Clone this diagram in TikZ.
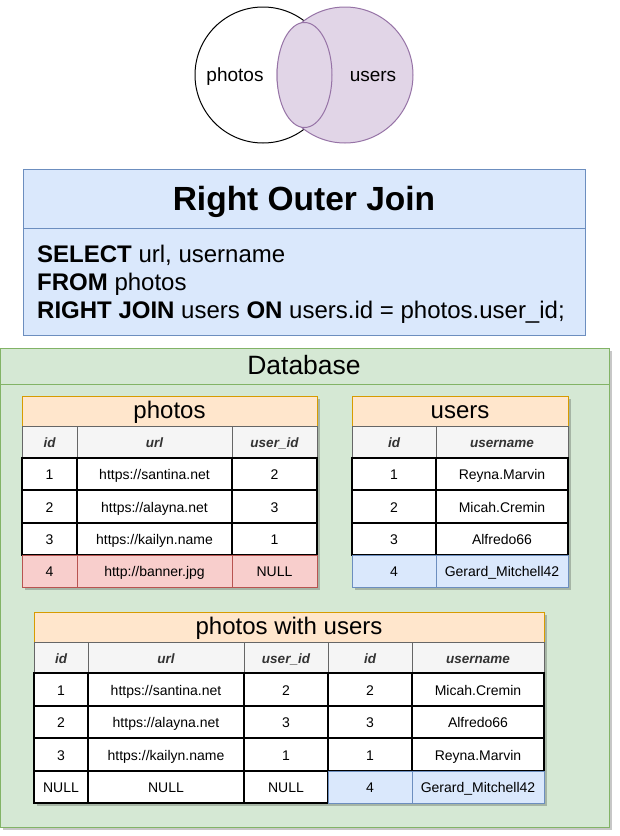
\documentclass[tikz,border=0pt]{standalone}
\usepackage{fontspec}
\usetikzlibrary{shapes.geometric}
\setmainfont{Liberation Sans}
\definecolor{bfill}{HTML}{DAE8FC}\definecolor{bstroke}{HTML}{6C8EBF}
\definecolor{gfill}{HTML}{D5E8D4}\definecolor{gstroke}{HTML}{82B366}
\definecolor{ofill}{HTML}{FFE6CC}\definecolor{ostroke}{HTML}{D79B00}
\definecolor{pfill}{HTML}{E1D5E7}\definecolor{pstroke}{HTML}{9673A6}
\definecolor{rfill}{HTML}{F8CECC}\definecolor{rstroke}{HTML}{B85450}
\definecolor{hfill}{HTML}{F5F5F5}\definecolor{hstroke}{HTML}{666666}\definecolor{htext}{HTML}{333333}
\newcommand\cellbox[7]{\node[#6, minimum width={(#4-#2)*1pt}, minimum height={(#5-#3)*1pt}] (#1) at ({(#2+#4)/2},{(#3+#5)/2}) {#7};}
\newcommand\shadowbox[4]{\fill[black, opacity=0.22] ({#1+3},{#2+3}) rectangle ({#3+3},{#4+3});}
\begin{document}
\begin{tikzpicture}[x=1pt,y=-1pt,
  base/.style={rectangle, inner sep=0pt, outer sep=0pt, line width=1pt},
  hdr/.style={base, draw=ostroke, fill=ofill, text height=17pt, text depth=3pt, font=\fontsize{24}{28}\selectfont},
  colh/.style={base, draw=hstroke, fill=hfill, text=htext, text height=11pt, text depth=0pt, font=\fontsize{13.5}{15}\selectfont\bfseries\itshape},
  txt/.style={text height=11pt, text depth=0pt, font=\fontsize{14}{16}\selectfont},
  dat/.style={base, txt, draw=black, fill=white, line width=1.3pt},
  datr/.style={base, txt, draw=rstroke, fill=rfill},
  datb/.style={base, txt, draw=bstroke, fill=bfill},
  sql/.style={anchor=base west, inner sep=0pt, font=\fontsize{24}{28}\selectfont},
  venn/.style={text height=14pt, text depth=0pt, font=\fontsize{19}{22}\selectfont}
]
\useasboundingbox (0,0) rectangle (619,836);
% Venn
\node[circle, draw=black, fill=white, line width=1pt, minimum size=136pt, inner sep=0pt] (pc) at (263,75) {};
\node[circle, draw=pstroke, fill=pfill, line width=1pt, minimum size=136pt, inner sep=0pt] (uc) at (345,75) {};
\node[ellipse, draw=pstroke, fill=pfill, line width=1pt, minimum width=55pt, minimum height=105pt, inner sep=0pt] (lens) at (304.5,75) {};
\node[venn] (pt) at (235,74) {photos};
\node[venn] (ut) at (373,74) {users};
% Title box
\cellbox{tbox}{23}{169}{585}{335}{base, draw=bstroke, fill=bfill}{}
\draw[bstroke, line width=1pt] (23,228) -- (585,228);
\node[anchor=base, inner sep=0pt, font=\fontsize{33.5}{38}\selectfont\bfseries] (title) at (304,210) {Right Outer Join};
\node[sql] (s1) at (37,262) {\textbf{SELECT} url, username};
\node[sql] (s2) at (37,290) {\textbf{FROM} photos};
\node[sql] (s3) at (37,318) {\textbf{RIGHT JOIN} users \textbf{ON} users.id = photos.user\_id;};
% Database container
\shadowbox{0}{348}{609}{827}
\cellbox{db}{0}{348}{609}{827}{base, draw=gstroke, fill=gfill}{}
\draw[gstroke, line width=1pt] (0,384) -- (609,384);
\node[anchor=base, inner sep=0pt, font=\fontsize{26.5}{30}\selectfont] (dbt) at (304,374) {Database};
% photos table
\shadowbox{22}{396}{317}{587}
\cellbox{ph}{22}{396}{317}{426}{hdr}{photos}
\cellbox{ph0a}{22}{426}{77}{458}{colh}{id}
\cellbox{ph0b}{77}{426}{232}{458}{colh}{url}
\cellbox{ph0c}{232}{426}{317}{458}{colh}{user\_id}
\cellbox{ph1a}{22}{458}{77}{490}{dat}{1}
\cellbox{ph1b}{77}{458}{232}{490}{dat}{https://santina.net}
\cellbox{ph1c}{232}{458}{317}{490}{dat}{2}
\cellbox{ph2a}{22}{490}{77}{523}{dat}{2}
\cellbox{ph2b}{77}{490}{232}{523}{dat}{https://alayna.net}
\cellbox{ph2c}{232}{490}{317}{523}{dat}{3}
\cellbox{ph3a}{22}{523}{77}{555}{dat}{3}
\cellbox{ph3b}{77}{523}{232}{555}{dat}{https://kailyn.name}
\cellbox{ph3c}{232}{523}{317}{555}{dat}{1}
\cellbox{ph4a}{22}{555}{77}{587}{datr}{4}
\cellbox{ph4b}{77}{555}{232}{587}{datr}{http://banner.jpg}
\cellbox{ph4c}{232}{555}{317}{587}{datr}{NULL}
% users table
\shadowbox{352}{396}{568}{587}
\cellbox{us}{352}{396}{568}{426}{hdr}{users}
\cellbox{us0a}{352}{426}{436}{458}{colh}{id}
\cellbox{us0b}{436}{426}{568}{458}{colh}{username}
\cellbox{us1a}{352}{458}{436}{490}{dat}{1}
\cellbox{us1b}{436}{458}{568}{490}{dat}{Reyna.Marvin}
\cellbox{us2a}{352}{490}{436}{523}{dat}{2}
\cellbox{us2b}{436}{490}{568}{523}{dat}{Micah.Cremin}
\cellbox{us3a}{352}{523}{436}{555}{dat}{3}
\cellbox{us3b}{436}{523}{568}{555}{dat}{Alfredo66}
\cellbox{us4a}{352}{555}{436}{587}{datb}{4}
\cellbox{us4b}{436}{555}{568}{587}{datb}{Gerard\_Mitchell42}
% result table
\shadowbox{34}{612}{544}{803}
\cellbox{rs}{34}{612}{544}{642}{hdr}{photos with users}
\cellbox{rs0a}{34}{642}{88}{673}{colh}{id}
\cellbox{rs0b}{88}{642}{244}{673}{colh}{url}
\cellbox{rs0c}{244}{642}{328}{673}{colh}{user\_id}
\cellbox{rs0d}{328}{642}{412}{673}{colh}{id}
\cellbox{rs0e}{412}{642}{544}{673}{colh}{username}
\cellbox{rs1a}{34}{673}{88}{706}{dat}{1}
\cellbox{rs1b}{88}{673}{244}{706}{dat}{https://santina.net}
\cellbox{rs1c}{244}{673}{328}{706}{dat}{2}
\cellbox{rs1d}{328}{673}{412}{706}{dat}{2}
\cellbox{rs1e}{412}{673}{544}{706}{dat}{Micah.Cremin}
\cellbox{rs2a}{34}{706}{88}{738}{dat}{2}
\cellbox{rs2b}{88}{706}{244}{738}{dat}{https://alayna.net}
\cellbox{rs2c}{244}{706}{328}{738}{dat}{3}
\cellbox{rs2d}{328}{706}{412}{738}{dat}{3}
\cellbox{rs2e}{412}{706}{544}{738}{dat}{Alfredo66}
\cellbox{rs3a}{34}{738}{88}{771}{dat}{3}
\cellbox{rs3b}{88}{738}{244}{771}{dat}{https://kailyn.name}
\cellbox{rs3c}{244}{738}{328}{771}{dat}{1}
\cellbox{rs3d}{328}{738}{412}{771}{dat}{1}
\cellbox{rs3e}{412}{738}{544}{771}{dat}{Reyna.Marvin}
\cellbox{rs4a}{34}{771}{88}{803}{dat}{NULL}
\cellbox{rs4b}{88}{771}{244}{803}{dat}{NULL}
\cellbox{rs4c}{244}{771}{328}{803}{dat}{NULL}
\cellbox{rs4d}{328}{771}{412}{803}{datb}{4}
\cellbox{rs4e}{412}{771}{544}{803}{datb}{Gerard\_Mitchell42}
\end{tikzpicture}
\end{document}
